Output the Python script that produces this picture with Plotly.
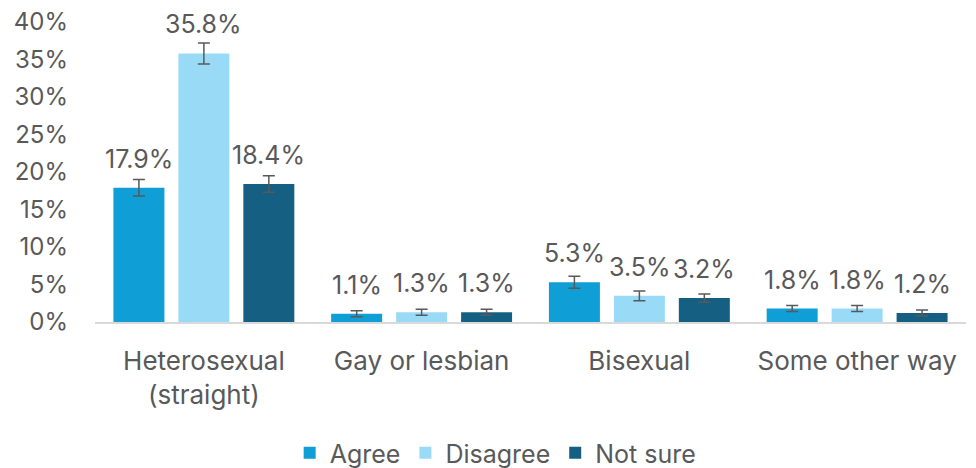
import plotly.graph_objects as go

categories = ["Heterosexual<br>(straight)", "Gay or lesbian", "Bisexual", "Some other way"]
series_names = ["Agree", "Disagree", "Not sure"]
agree = [17.9, 1.1, 5.3, 1.8]
disagree = [35.8, 1.3, 3.5, 1.8]
not_sure = [18.4, 1.3, 3.2, 1.2]
agree_err = [1.1, 0.4, 0.8, 0.4]
disagree_err = [1.4, 0.4, 0.65, 0.4]
not_sure_err = [1.1, 0.4, 0.55, 0.4]
y_ticks = [0, 5, 10, 15, 20, 25, 30, 35, 40]

colors = ["#0F9ED5", "#99DBF7", "#156082"]
values = [agree, disagree, not_sure]
errors = [agree_err, disagree_err, not_sure_err]

FONT = "Inter, Noto Sans, sans-serif"
GRAY = "#595959"
bargap = 0.105
slot = (1 - bargap) / 3
xs = list(range(len(categories)))

fig = go.Figure()
for name, vals, errs, col in zip(series_names, values, errors, colors):
    fig.add_trace(go.Bar(
        name=name, x=xs, y=vals, marker=dict(color=col, line=dict(width=0)),
        error_y=dict(type="data", array=errs, visible=True, color=GRAY, thickness=1.5, width=6),
    ))

annotations = []
for k, vals in enumerate(values):
    for i, v in enumerate(vals):
        annotations.append(dict(
            x=i + (k - 1) * slot, y=v, xref="x", yref="y", text=f"{v:.1f}%",
            showarrow=False, yanchor="bottom", yshift=12,
            font=dict(family=FONT, size=25, color=GRAY),
        ))

# page body adds an 8px offset, so the figure is 8px smaller and margins shifted
fig.update_layout(
    width=968, height=460,
    margin=dict(l=87, r=10, t=14, b=146, autoexpand=False),
    paper_bgcolor="white", plot_bgcolor="white",
    barmode="group", bargap=bargap, bargroupgap=0.215,
    font=dict(family=FONT, size=24, color=GRAY),
    annotations=annotations,
    showlegend=True,
    legend=dict(orientation="h", x=0.46, xanchor="center", y=-0.437, yanchor="middle",
                font=dict(size=25, color=GRAY), itemwidth=30, traceorder="normal"),
    xaxis=dict(range=[-0.5, 3.5], tickmode="array", tickvals=xs, ticktext=categories,
               showgrid=False, zeroline=False, showline=True, linecolor="#D9D9D9", linewidth=2,
               ticks="", tickfont=dict(size=26, color=GRAY), ticklabelstandoff=15, automargin=False),
    yaxis=dict(range=[0, 40], tickmode="array", tickvals=y_ticks,
               ticktext=[f"{t}%" for t in y_ticks], showgrid=False, zeroline=False,
               showline=False, ticks="", tickfont=dict(size=24, color=GRAY), ticklabelstandoff=26,
               ticklabeloverflow="allow", automargin=False),
)

fig.write_html("out.html")
